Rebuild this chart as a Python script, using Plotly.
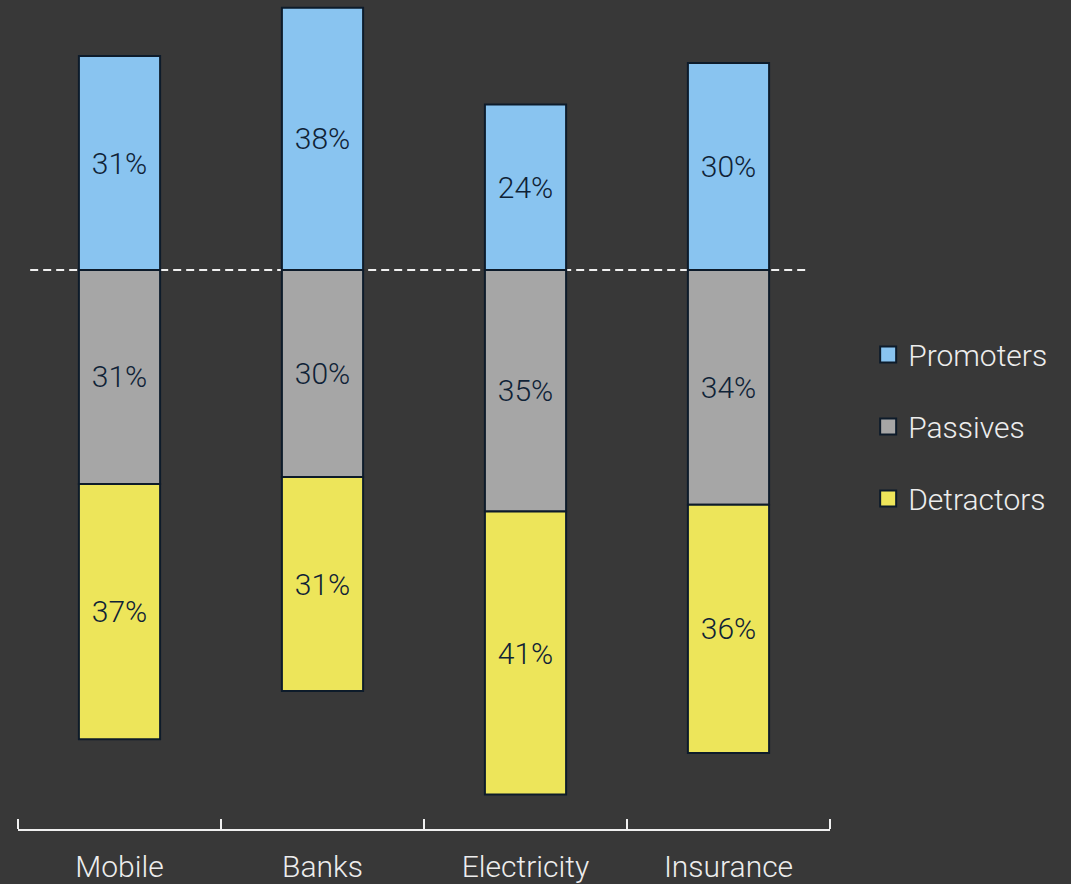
import plotly.graph_objects as go

categories = ["Mobile", "Banks", "Electricity", "Insurance"]
promoters = [31, 38, 24, 30]
passives = [31, 30, 35, 34]
detractors = [37, 31, 41, 36]

BG = "#383838"
EDGE = "#0d1b2a"
TXT = "#0f2236"
FONT = "Roboto"
W = 300
AX = "#f0f0f0"

series = [("Promoters", promoters, 1, "#89c4f0"),
          ("Passives", passives, -1, "#a6a6a6"),
          ("Detractors", detractors, -1, "#ede55a")]

fig = go.Figure()

for name, vals, sign, color in series:
    fig.add_trace(go.Bar(
        name=name,
        x=categories,
        y=[sign * v for v in vals],
        text=[f"{v}%" for v in vals],
        textposition="inside",
        insidetextanchor="middle",
        textangle=0,
        textfont=dict(family=FONT, size=30, color=TXT, weight=W),
        marker=dict(color=color, line=dict(color=EDGE, width=2)),
        showlegend=False,
        hoverinfo="skip",
    ))

for name, vals, sign, color in series:
    fig.add_trace(go.Scatter(
        name=name, x=[None], y=[None], mode="markers",
        marker=dict(symbol="square", size=16, color=color, line=dict(color=EDGE, width=2)),
        legendgroup=name, showlegend=True,
    ))

fig.add_shape(type="line", xref="paper", yref="y", x0=0.015, x1=0.975, y0=0, y1=0,
              line=dict(color=AX, width=2, dash="8px,5px"), layer="below")
# end ticks of the category axis
for xp in (0, 1):
    fig.add_shape(type="line", xref="paper", yref="paper", x0=xp, x1=xp, y0=0, y1=10 / 829,
                  line=dict(color=AX, width=2))

fig.update_layout(
    width=1071, height=884,
    paper_bgcolor=BG, plot_bgcolor=BG,
    margin=dict(l=18, r=241, t=0, b=55),
    barmode="relative",
    bargap=0.6,
    font=dict(family=FONT, color="#ededed", weight=W),
    showlegend=True,
    legend=dict(x=1.047, xanchor="left", y=0.4855, yanchor="middle",
                font=dict(family=FONT, size=30, color="#ededed", weight=W),
                tracegroupgap=30, traceorder="grouped", bgcolor="rgba(0,0,0,0)"),
    xaxis=dict(type="category", showline=True, linecolor=AX, linewidth=2,
               ticks="inside", tickson="boundaries", ticklen=10, tickwidth=2,
               tickcolor=AX, showgrid=False, zeroline=False, automargin=False,
               tickfont=dict(family=FONT, size=30, color="#ededed", weight=W),
               ticklabelstandoff=10, range=[-0.5, 3.5]),
    yaxis=dict(visible=False, range=[-81.0, 39.13], showgrid=False, zeroline=False,
               automargin=False),
    uniformtext=dict(minsize=20, mode="show"),
)

fig.write_html("out.html")
